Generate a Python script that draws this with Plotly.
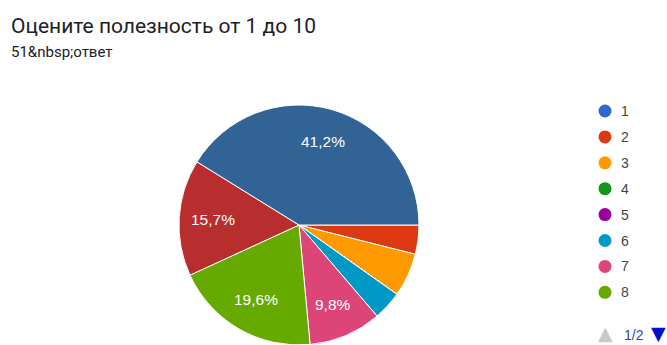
import math
import plotly.graph_objects as go

# Survey answers: rating -> number of responses
ratings = ["1", "2", "3", "4", "5", "6", "7", "8", "9", "10"]
counts = [0, 2, 3, 0, 0, 2, 5, 10, 8, 21]
colors = ["#3366cc", "#dc3912", "#ff9900", "#109618", "#990099",
          "#0099c6", "#dd4477", "#66aa00", "#b82e2e", "#316395"]

title_text = "Оцените полезность от 1 до 10"
subtitle_text = "51&amp;nbsp;ответ"
legend_page = "1/2"
legend_items = ratings[:8]

W, H = 667, 345
cx, cy, r = 299, 225, 120
start_deg = 90          # first slice begins at 3 o'clock, going clockwise
label_frac = 0.72       # percent labels sit at this fraction of the radius

fig = go.Figure(go.Pie(
    labels=ratings,
    values=counts,
    sort=False,
    direction="clockwise",
    rotation=start_deg,
    marker=dict(colors=colors, line=dict(color="white", width=1)),
    textinfo="none",
    showlegend=False,
    hoverinfo="label+value+percent",
    domain=dict(x=[(cx - r) / W, (cx + r) / W], y=[(H - cy - r) / H, (H - cy + r) / H]),
))

annotations = [
    dict(text=title_text, x=9 / W, y=1 - 26 / H, xanchor="left", yanchor="middle",
         font=dict(family="Roboto", size=21, color="#202124")),
    dict(text=subtitle_text, x=9 / W, y=1 - 52 / H, xanchor="left", yanchor="middle",
         font=dict(family="Roboto", size=15, color="#202124")),
]

# Percent labels (decimal comma) along each slice bisector; tiny slices stay unlabeled
total = sum(counts)
acc = 0
for c in counts:
    share = c / total * 100
    mid = start_deg + (acc + c / 2) / total * 360
    acc += c
    if share < 8:
        continue
    px = cx + label_frac * r * math.sin(math.radians(mid))
    py = cy - label_frac * r * math.cos(math.radians(mid))
    annotations.append(dict(text=f"{share:.1f}%".replace(".", ","), x=px / W, y=1 - py / H,
                            xanchor="center", yanchor="middle",
                            font=dict(family="Liberation Sans, Arial", size=15.5, color="white")))

shapes = []
row0, step, dot_x, dot_d = 111, 25.9, 605, 13
for i, lab in enumerate(legend_items):
    yc = row0 + i * step
    shapes.append(dict(type="circle", xref="paper", yref="paper",
                       x0=(dot_x - dot_d / 2) / W, x1=(dot_x + dot_d / 2) / W,
                       y0=1 - (yc + dot_d / 2) / H, y1=1 - (yc - dot_d / 2) / H,
                       fillcolor=colors[i], line=dict(width=0)))
    annotations.append(dict(text=lab, x=619 / W, y=1 - yc / H, xanchor="left", yanchor="middle",
                            font=dict(family="Liberation Sans, Arial", size=14, color="#444444")))

# Legend paging controls
annotations += [
    dict(text="▲", x=605 / W, y=1 - 333 / H, xanchor="center", yanchor="middle",
         font=dict(family="DejaVu Sans", size=19, color="#c8c8c8")),
    dict(text=legend_page, x=622 / W, y=1 - 335 / H, xanchor="left", yanchor="middle",
         font=dict(family="Liberation Sans, Arial", size=14, color="#3046b8")),
    dict(text="▼", x=658 / W, y=1 - 333 / H, xanchor="center", yanchor="middle",
         font=dict(family="DejaVu Sans", size=19, color="#0010c8")),
]
for a in annotations:
    a.update(xref="paper", yref="paper", showarrow=False)

fig.update_layout(
    width=W, height=H,
    margin=dict(l=0, r=0, t=0, b=0),
    paper_bgcolor="white", plot_bgcolor="white",
    annotations=annotations, shapes=shapes,
)
fig.write_html("out.html")
